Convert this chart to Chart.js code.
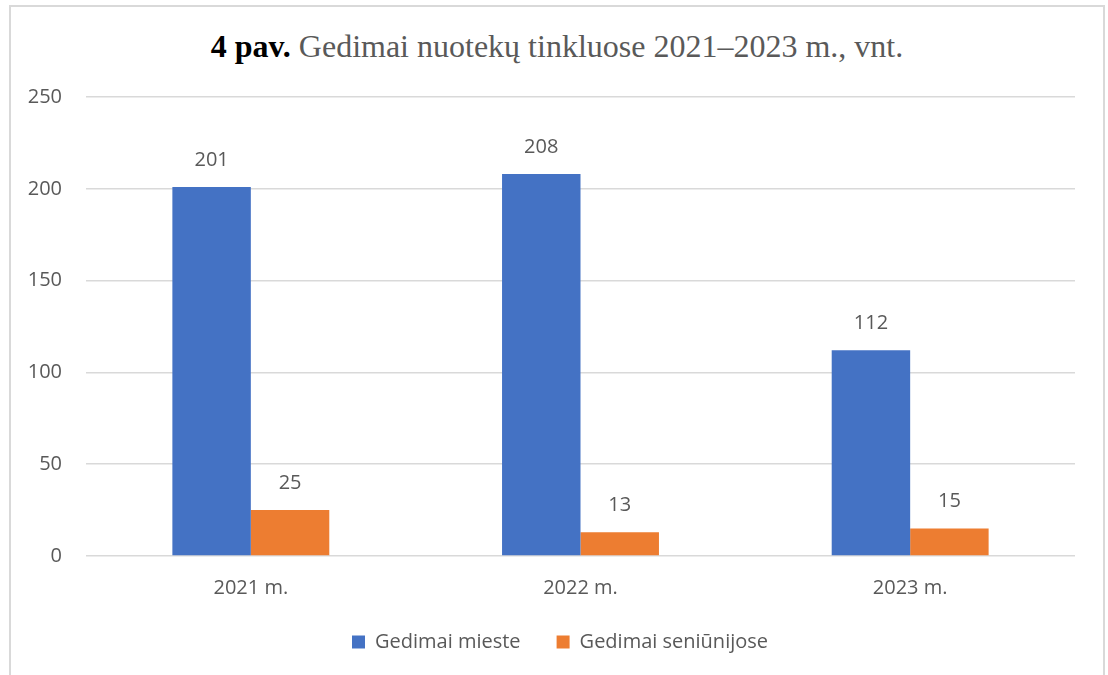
<!DOCTYPE html>
<html>
<head>
<meta charset="utf-8">
<script src="https://cdn.jsdelivr.net/npm/chart.js@4.4.1/dist/chart.umd.min.js"></script>
<style>
  html, body { margin: 0; padding: 0; background: #fff; overflow: hidden; }
  #wrap { position: relative; width: 1108px; height: 675px; }
  #frame {
    position: absolute; left: 9px; top: 5px; width: 1096px; height: 700px;
    border: 2px solid #d9d9d9; box-sizing: border-box;
  }
  #title {
    position: absolute; left: 3px; top: 26px; width: 1108px; text-align: center;
    font-family: "Liberation Serif", "Times New Roman", serif; font-size: 32px;
    color: #595959; line-height: 40px; white-space: nowrap;
  }
  #title b { color: #000; }
  canvas { position: absolute; left: 0; top: 0; }
</style>
</head>
<body>
<div id="wrap">
  <div id="frame"></div>
  <div id="title"><b>4 pav.</b> Gedimai nuotekų tinkluose 2021–2023 m., vnt.</div>
  <canvas id="chart" width="1108" height="675"></canvas>
</div>
<script>
// ===== data =====
const years = ["2021 m.", "2022 m.", "2023 m."];
const cityFailures = [201, 208, 112];
const wardFailures = [25, 13, 15];
const yTicks = [0, 50, 100, 150, 200, 250];

const FONT = "'Open Sans', 'Noto Sans', sans-serif";
const GREY = "#595959";

// value labels above each bar
const valueLabels = {
  id: "valueLabels",
  afterDatasetsDraw(chart) {
    const ctx = chart.ctx;
    ctx.save();
    ctx.font = "20px " + FONT;
    ctx.fillStyle = GREY;
    ctx.textAlign = "center";
    ctx.textBaseline = "middle";
    chart.data.datasets.forEach((ds, i) => {
      chart.getDatasetMeta(i).data.forEach((bar, j) => {
        ctx.fillText(ds.data[j], bar.x, bar.y - 27);
      });
    });
    ctx.restore();
  }
};

// legend sits a little right of the canvas centre in the original
const shiftLegend = {
  id: "shiftLegend",
  afterLayout(chart) {
    chart.legend.left += 45;
  }
};

new Chart(document.getElementById("chart"), {
  type: "bar",
  data: {
    labels: years,
    datasets: [
      { label: "Gedimai mieste", data: cityFailures, backgroundColor: "#4472c4" },
      { label: "Gedimai seniūnijose", data: wardFailures, backgroundColor: "#ed7d31" }
    ]
  },
  options: {
    responsive: false,
    animation: false,
    layout: { padding: { left: 0, right: 33, top: 97, bottom: 13 } },
    categoryPercentage: 0.476,
    barPercentage: 1,
    plugins: {
      title: { display: false },
      tooltip: { enabled: false },
      legend: {
        position: "bottom",
        labels: {
          color: GREY,
          font: { family: FONT, size: 20 },
          boxWidth: 13,
          boxHeight: 13,
          padding: 36
        }
      }
    },
    scales: {
      x: {
        grid: { display: false },
        border: { display: false },
        ticks: { color: GREY, font: { family: FONT, size: 20 }, padding: 12 },
        afterFit: s => { s.height = 40; }
      },
      y: {
        min: 0,
        max: 250,
        afterBuildTicks: s => { s.ticks = yTicks.map(v => ({ value: v })); },
        grid: { color: "#d9d9d9", lineWidth: 1.5, drawTicks: false },
        border: { display: false },
        ticks: { color: GREY, font: { family: FONT, size: 20 }, padding: 24 },
        afterFit: s => { s.width = 86; }
      }
    }
  },
  plugins: [valueLabels, shiftLegend]
});
</script>
</body>
</html>
